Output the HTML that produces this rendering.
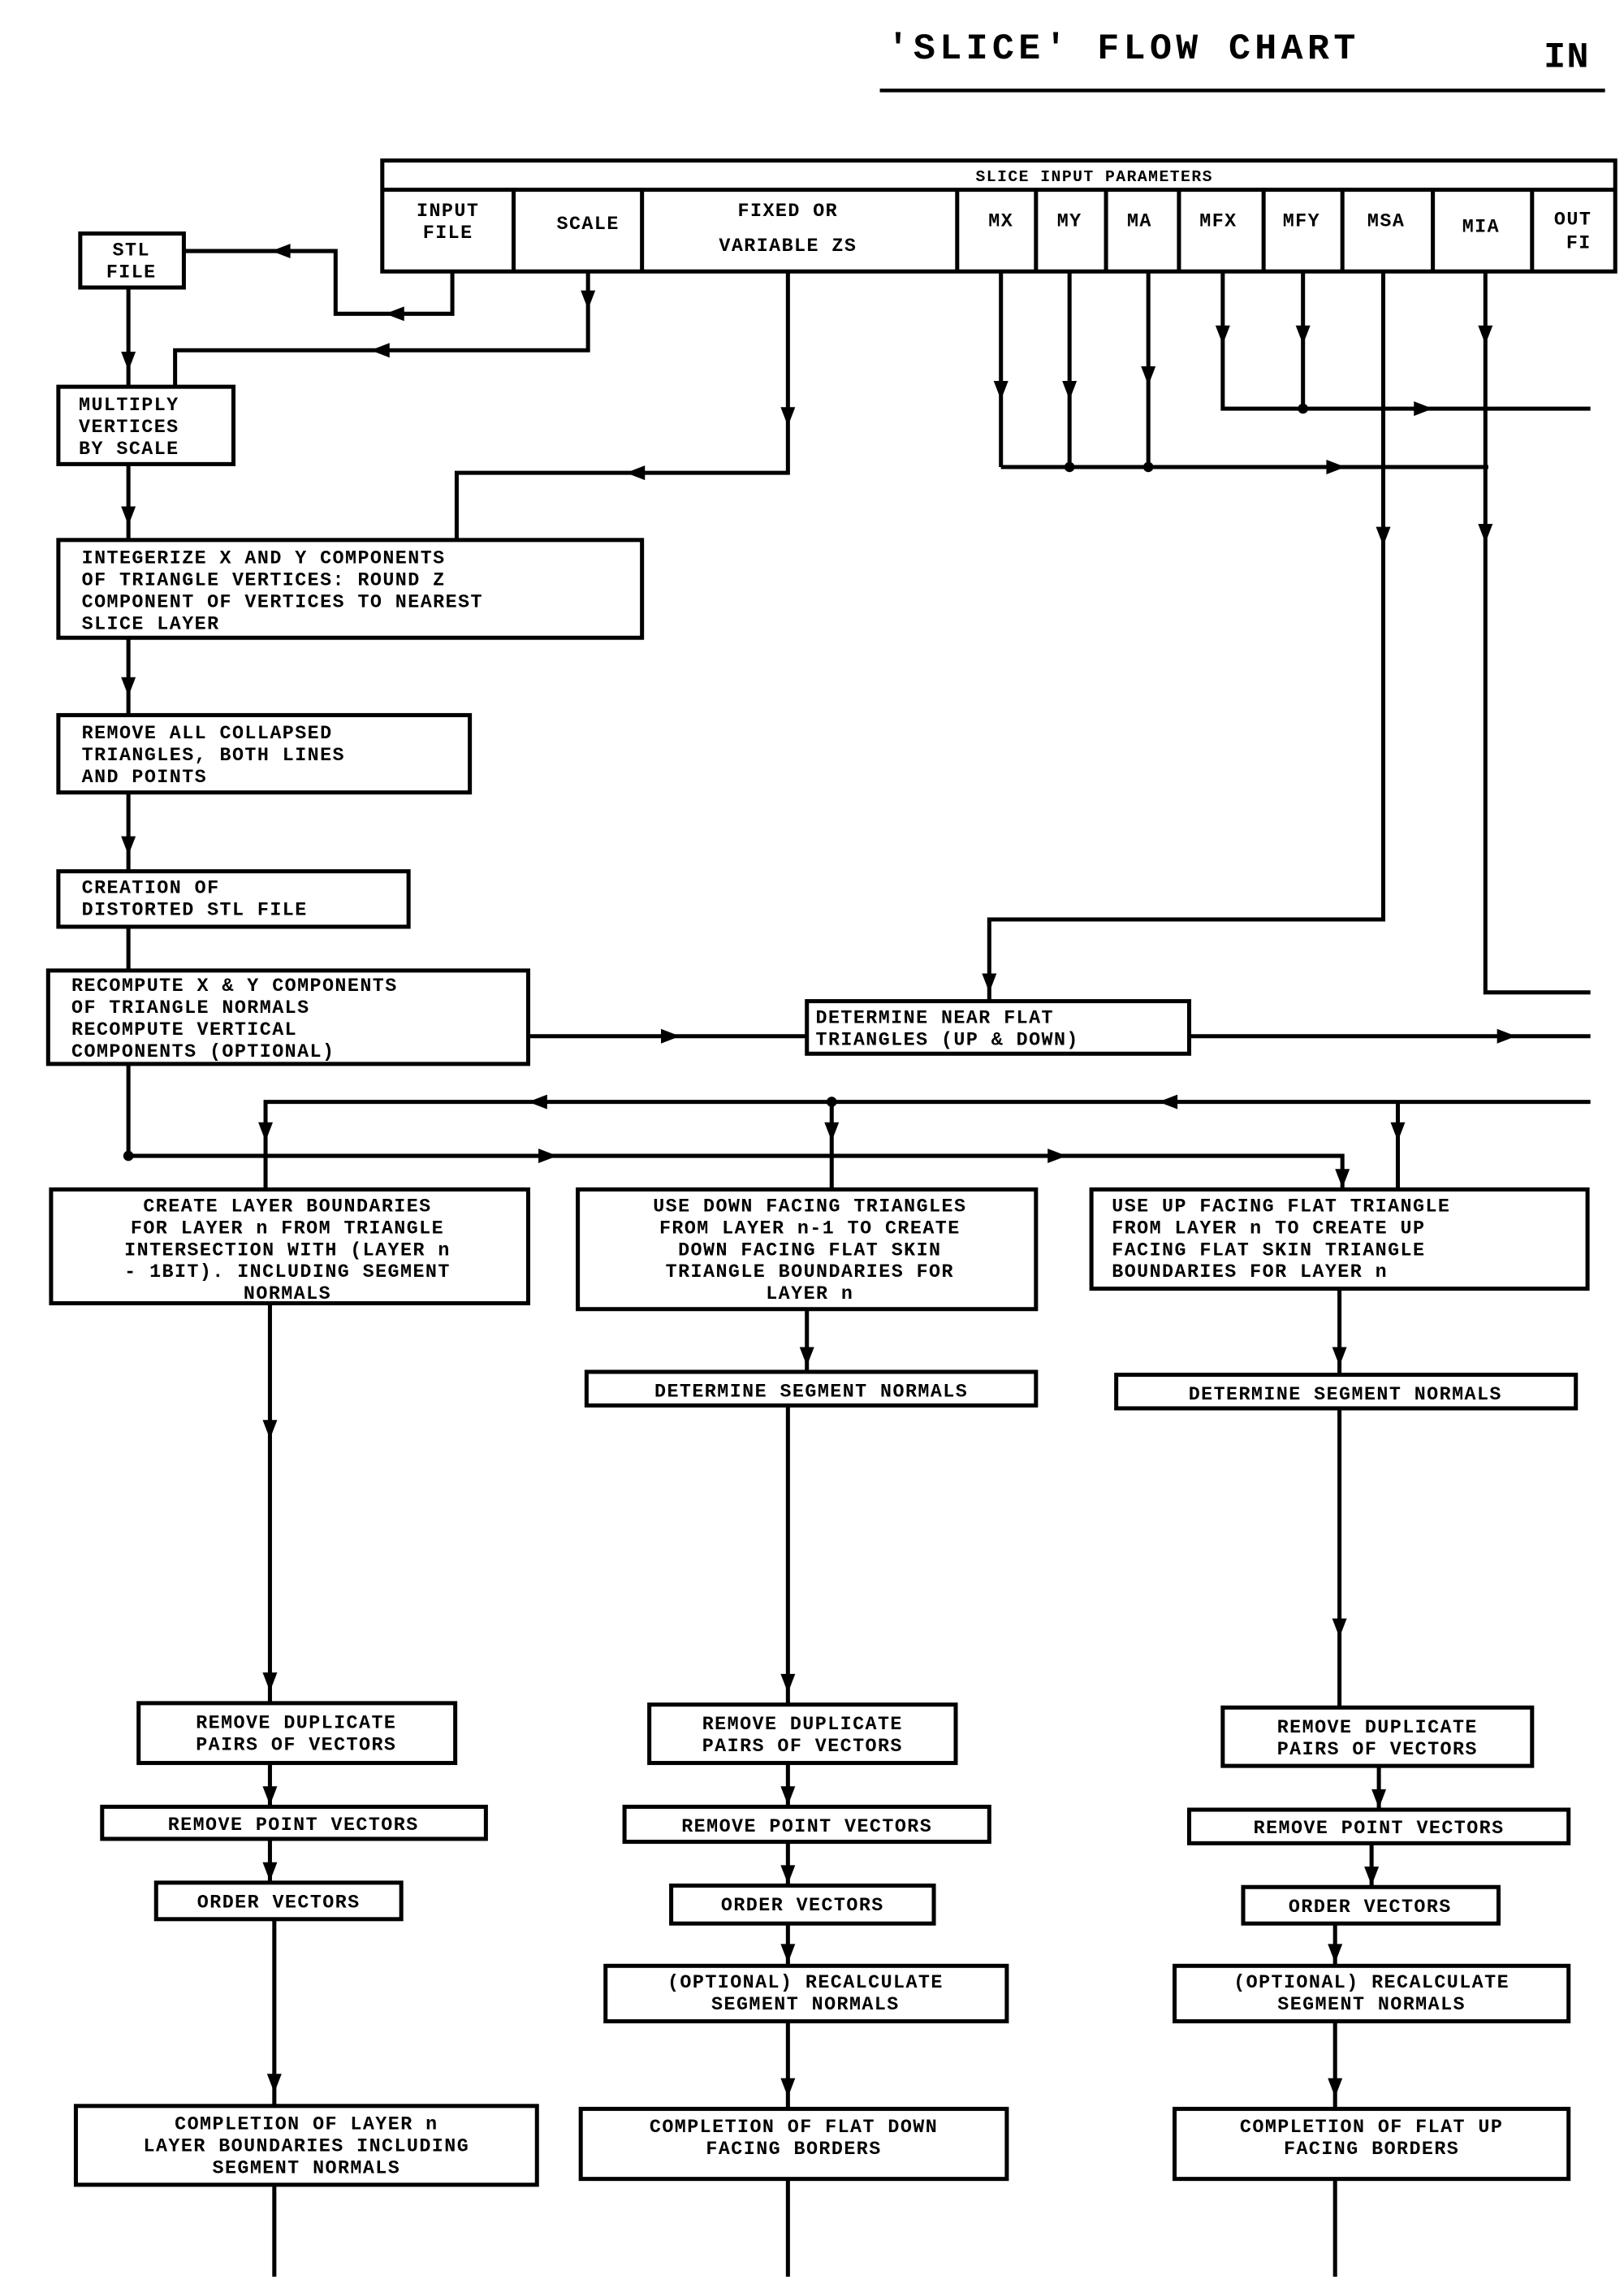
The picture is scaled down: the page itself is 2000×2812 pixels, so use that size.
<!DOCTYPE html>
<html><head><meta charset="utf-8"><style>
html,body{margin:0;padding:0;background:#fff;}
svg{display:block;}
text{font-family:"Liberation Mono",monospace;font-weight:bold;font-size:13px;fill:#000;text-anchor:middle;letter-spacing:0.8px;}
.l{text-anchor:start;}
</style></head><body>
<svg width="2000" height="2812" viewBox="0 0 1113 1565" preserveAspectRatio="none" xmlns="http://www.w3.org/2000/svg">
<defs>
<polygon id="ad" points="-5,-9 5,-9 0,4"/>
<polygon id="ar" points="-9,-5 -9,5 4,0"/>
<polygon id="al" points="9,-5 9,5 -4,0"/>
</defs>
<rect width="1113" height="1565" fill="#fff"/>
<!-- title -->
<text x="608" y="40" class="l" style="font-size:25px;font-weight:bold;letter-spacing:3px">'SLICE' FLOW CHART</text>
<text x="1058" y="46" class="l" style="font-size:25px;font-weight:bold">IN</text>
<line x1="603" y1="62" x2="1100" y2="62" stroke="#000" stroke-width="2.5"/>

<g fill="none" stroke="#000" stroke-width="2.8">
<rect x="262" y="110" width="845" height="76"/>
<line x1="262" y1="130" x2="1107" y2="130"/>
<path d="M352 130V186M440 130V186M656 130V186M710 130V186M758 130V186M808 130V186M866 130V186M920 130V186M982 130V186M1050 130V186"/>
<rect x="55" y="160" width="71" height="37"/>
<rect x="40" y="265" width="120" height="53"/>
<rect x="40" y="370" width="400" height="67"/>
<rect x="40" y="490" width="282" height="53"/>
<rect x="40" y="597" width="240" height="38"/>
<rect x="33" y="665" width="329" height="64"/>
<rect x="553" y="686" width="262" height="36"/>
<rect x="35" y="815" width="327" height="78"/>
<rect x="396" y="815" width="314" height="82"/>
<rect x="748" y="815" width="340" height="68"/>
<rect x="402" y="940" width="308" height="23"/>
<rect x="765" y="942" width="315" height="23"/>
<rect x="95" y="1167" width="217" height="41"/>
<rect x="445" y="1168" width="210" height="40"/>
<rect x="838" y="1170" width="212" height="40"/>
<rect x="70" y="1238" width="263" height="22"/>
<rect x="428" y="1238" width="250" height="24"/>
<rect x="815" y="1240" width="260" height="23"/>
<rect x="107" y="1290" width="168" height="25"/>
<rect x="460" y="1292" width="180" height="26"/>
<rect x="852" y="1293" width="175" height="25"/>
<rect x="415" y="1347" width="275" height="38"/>
<rect x="805" y="1347" width="270" height="38"/>
<rect x="52" y="1443" width="316" height="54"/>
<rect x="398" y="1445" width="292" height="48"/>
<rect x="805" y="1445" width="270" height="48"/>
<path d="M126 172H230V215H310V186"/>
<path d="M88 197V265"/>
<path d="M403 186V240H120V265"/>
<path d="M88 318V370"/>
<path d="M540 186V324H313V370"/>
<path d="M88 437V490M88 543V597M88 635V665"/>
<path d="M362 710H553M815 710H1090"/>
<path d="M686 186V320M733 186V320M787 186V320M686 320H1020"/>
<path d="M838 186V280H1090M893 186V280"/>
<path d="M948 186V630H678V686"/>
<path d="M1018 186V680H1090"/>
<path d="M88 729V792H920V815"/>
<path d="M1090 755H182V815M570 755V815M958 755V815"/>
<path d="M185 893V1167M553 897V940M540 963V1168M918 883V942M918 965V1170"/>
<path d="M185 1208V1238M540 1208V1238M945 1210V1240"/>
<path d="M185 1260V1290M540 1262V1292M940 1263V1293"/>
<path d="M540 1318V1347M915 1318V1347"/>
<path d="M188 1315V1443M540 1385V1445M915 1385V1445"/>
<path d="M188 1497V1560M540 1493V1560M915 1493V1560"/>
</g>
<g fill="#000">
<use href="#al" x="190" y="172"/>
<use href="#al" x="268" y="215"/>
<use href="#ad" x="88" y="250"/>
<use href="#ad" x="403" y="208"/>
<use href="#al" x="258" y="240"/>
<use href="#ad" x="88" y="356"/>
<use href="#ad" x="540" y="288"/>
<use href="#al" x="433" y="324"/>
<use href="#ad" x="88" y="473"/>
<use href="#ad" x="88" y="582"/>
<use href="#ar" x="462" y="710"/>
<use href="#ar" x="1035" y="710"/>
<use href="#ad" x="686" y="270"/>
<use href="#ad" x="733" y="270"/>
<use href="#ad" x="787" y="260"/>
<use href="#ar" x="918" y="320"/>
<use href="#ar" x="978" y="280"/>
<use href="#ad" x="838" y="232"/>
<use href="#ad" x="893" y="232"/>
<use href="#ad" x="948" y="370"/>
<use href="#ad" x="1018" y="232"/>
<use href="#ad" x="1018" y="368"/>
<use href="#ad" x="678" y="676"/>
<use href="#al" x="798" y="755"/>
<use href="#al" x="366" y="755"/>
<use href="#ad" x="182" y="778"/>
<use href="#ad" x="570" y="778"/>
<use href="#ad" x="958" y="778"/>
<use href="#ar" x="378" y="792"/>
<use href="#ar" x="727" y="792"/>
<use href="#ad" x="920" y="810"/>
<use href="#ad" x="185" y="982"/>
<use href="#ad" x="185" y="1155"/>
<use href="#ad" x="553" y="932"/>
<use href="#ad" x="540" y="1156"/>
<use href="#ad" x="918" y="932"/>
<use href="#ad" x="918" y="1118"/>
<use href="#ad" x="185" y="1233"/>
<use href="#ad" x="540" y="1233"/>
<use href="#ad" x="945" y="1235"/>
<use href="#ad" x="185" y="1285"/>
<use href="#ad" x="540" y="1287"/>
<use href="#ad" x="940" y="1288"/>
<use href="#ad" x="540" y="1341"/>
<use href="#ad" x="915" y="1341"/>
<use href="#ad" x="188" y="1430"/>
<use href="#ad" x="540" y="1433"/>
<use href="#ad" x="915" y="1433"/>
<circle cx="733" cy="320" r="3.5"/><circle cx="787" cy="320" r="3.5"/>
<circle cx="893" cy="280" r="3.5"/><circle cx="88" cy="792" r="3.5"/>
<circle cx="570" cy="755" r="3.5"/>
</g>
<text x="750" y="124" style="font-size:11px">SLICE INPUT PARAMETERS</text>
<text x="307" y="148">INPUT</text><text x="307" y="163">FILE</text>
<text x="403" y="157">SCALE</text>
<text x="540" y="148">FIXED OR</text><text x="540" y="172">VARIABLE ZS</text>
<text x="686" y="155">MX</text><text x="733" y="155">MY</text><text x="781" y="155">MA</text>
<text x="835" y="155">MFX</text><text x="892" y="155">MFY</text><text x="950" y="155">MSA</text>
<text x="1015" y="159">MIA</text><text x="1078" y="154">OUT</text><text x="1082" y="170">FI</text>
<text x="90" y="175">STL</text><text x="90" y="190">FILE</text>
<text class="l" x="54" y="281">MULTIPLY</text><text class="l" x="54" y="296">VERTICES</text><text class="l" x="54" y="311">BY SCALE</text>
<text class="l" x="56" y="386">INTEGERIZE X AND Y COMPONENTS</text>
<text class="l" x="56" y="401">OF TRIANGLE VERTICES: ROUND Z</text>
<text class="l" x="56" y="416">COMPONENT OF VERTICES TO NEAREST</text>
<text class="l" x="56" y="431">SLICE LAYER</text>
<text class="l" x="56" y="506">REMOVE ALL COLLAPSED</text>
<text class="l" x="56" y="521">TRIANGLES, BOTH LINES</text>
<text class="l" x="56" y="536">AND POINTS</text>
<text class="l" x="56" y="612">CREATION OF</text>
<text class="l" x="56" y="627">DISTORTED STL FILE</text>
<text class="l" x="49" y="679">RECOMPUTE X &amp; Y COMPONENTS</text>
<text class="l" x="49" y="694">OF TRIANGLE NORMALS</text>
<text class="l" x="49" y="709">RECOMPUTE VERTICAL</text>
<text class="l" x="49" y="724">COMPONENTS (OPTIONAL)</text>
<text class="l" x="559" y="701">DETERMINE NEAR FLAT</text>
<text class="l" x="559" y="716">TRIANGLES (UP &amp; DOWN)</text>
<text class="l" x="762" y="830">USE UP FACING FLAT TRIANGLE</text>
<text class="l" x="762" y="845">FROM LAYER n TO CREATE UP</text>
<text class="l" x="762" y="860">FACING FLAT SKIN TRIANGLE</text>
<text class="l" x="762" y="875">BOUNDARIES FOR LAYER n</text>
<text x="197" y="830">CREATE LAYER BOUNDARIES</text>
<text x="197" y="845">FOR LAYER n FROM TRIANGLE</text>
<text x="197" y="860">INTERSECTION WITH (LAYER n</text>
<text x="197" y="875">- 1BIT). INCLUDING SEGMENT</text>
<text x="197" y="890">NORMALS</text>
<text x="555" y="830">USE DOWN FACING TRIANGLES</text>
<text x="555" y="845">FROM LAYER n-1 TO CREATE</text>
<text x="555" y="860">DOWN FACING FLAT SKIN</text>
<text x="555" y="875">TRIANGLE BOUNDARIES FOR</text>
<text x="555" y="890">LAYER n</text>
<text x="556" y="957">DETERMINE SEGMENT NORMALS</text>
<text x="922" y="959">DETERMINE SEGMENT NORMALS</text>
<text x="203" y="1184">REMOVE DUPLICATE</text><text x="203" y="1199">PAIRS OF VECTORS</text>
<text x="550" y="1185">REMOVE DUPLICATE</text><text x="550" y="1200">PAIRS OF VECTORS</text>
<text x="944" y="1187">REMOVE DUPLICATE</text><text x="944" y="1202">PAIRS OF VECTORS</text>
<text x="201" y="1254">REMOVE POINT VECTORS</text>
<text x="553" y="1255">REMOVE POINT VECTORS</text>
<text x="945" y="1256">REMOVE POINT VECTORS</text>
<text x="191" y="1307">ORDER VECTORS</text>
<text x="550" y="1309">ORDER VECTORS</text>
<text x="939" y="1310">ORDER VECTORS</text>
<text x="552" y="1362">(OPTIONAL) RECALCULATE</text><text x="552" y="1377">SEGMENT NORMALS</text>
<text x="940" y="1362">(OPTIONAL) RECALCULATE</text><text x="940" y="1377">SEGMENT NORMALS</text>
<text x="210" y="1459">COMPLETION OF LAYER n</text>
<text x="210" y="1474">LAYER BOUNDARIES INCLUDING</text>
<text x="210" y="1489">SEGMENT NORMALS</text>
<text x="544" y="1461">COMPLETION OF FLAT DOWN</text>
<text x="544" y="1476">FACING BORDERS</text>
<text x="940" y="1461">COMPLETION OF FLAT UP</text>
<text x="940" y="1476">FACING BORDERS</text>
</svg>
</body></html>
